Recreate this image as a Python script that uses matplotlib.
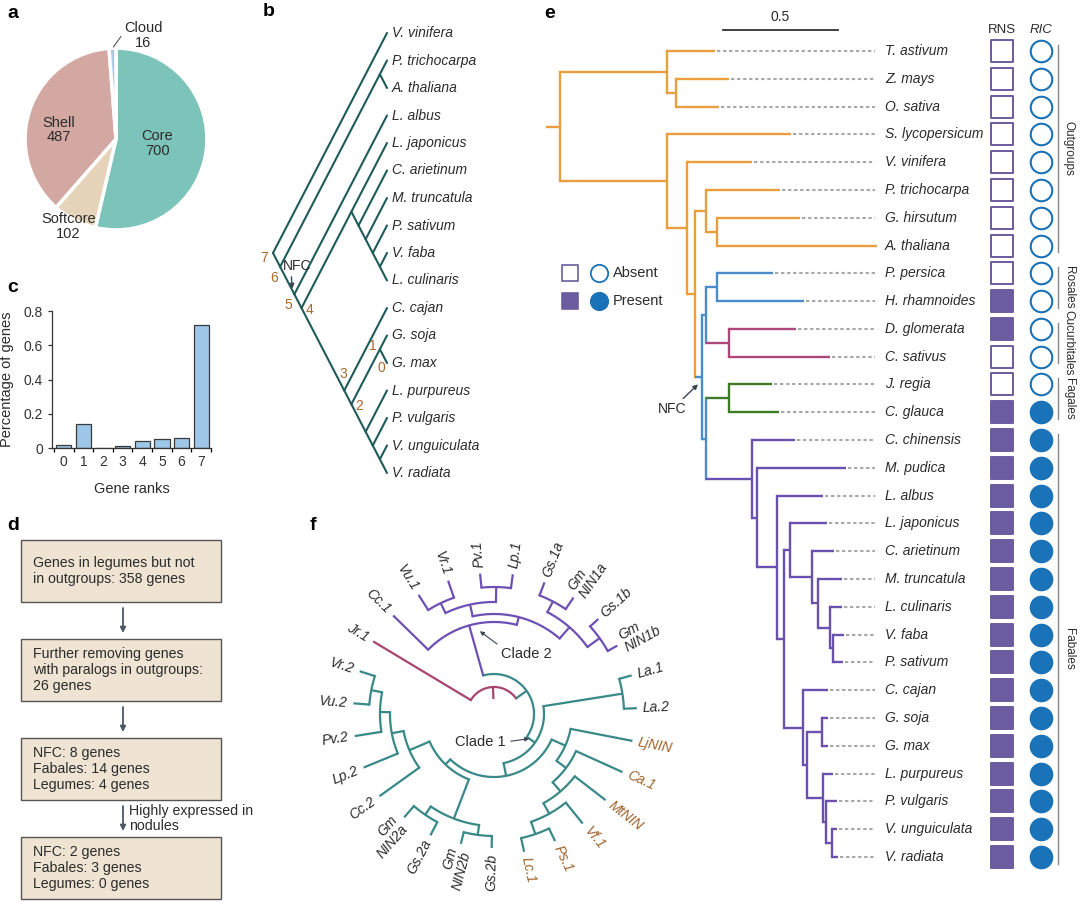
import numpy as np
import matplotlib
matplotlib.use("Agg")
import matplotlib.pyplot as plt
from matplotlib.patches import Rectangle

plt.rcParams['font.family'] = ['Liberation Sans', 'DejaVu Sans']

# ---------------- DATA ----------------
# a: pangenome pie
pie_labels = ["Core", "Softcore", "Shell", "Cloud"]
pie_values = [700, 102, 487, 16]

# c: gene ranks
gene_ranks = [0, 1, 2, 3, 4, 5, 6, 7]
gene_pct = [0.019, 0.143, 0.002, 0.011, 0.043, 0.052, 0.060, 0.720]

# b: species tree (cladogram) with gene-rank nodes
b_newick = ("(V. vinifera,((P. trichocarpa,A. thaliana),(L. albus,((L. japonicus,(C. arietinum,"
            "(M. truncatula,(P. sativum,(V. faba,L. culinaris))))),(C. cajan,((G. soja,G. max)R1,"
            "(L. purpureus,(P. vulgaris,(V. unguiculata,V. radiata))))R2)R3)R4)R5)R6)R7;")
b_rank_nodes = ["R7", "R6", "R5", "R4", "R3", "R2", "R1", "R1"]
b_rank_texts = ["7", "6", "5", "4", "3", "2", "1", "0"]

# d: filtering steps
d_steps = ["Genes in legumes but not\nin outgroups: 358 genes",
           "Further removing genes\nwith paralogs in outgroups:\n26 genes",
           "NFC: 8 genes\nFabales: 14 genes\nLegumes: 4 genes",
           "NFC: 2 genes\nFabales: 3 genes\nLegumes: 0 genes"]
d_arrow_notes = ["", "", "Highly expressed in\nnodules"]

# e: phylogram (branch lengths, substitutions/site)
e_mono = "(T. astivum:0.207,(Z. mays:0.230,O. sativa:0.187):0.037):0.467"
e_rosmal = "(P. trichocarpa:0.322,(G. hirsutum:0.361,A. thaliana:0.696):0.048):0.048"
e_rosales = "(P. persica:0.243,H. rhamnoides:0.378)Rosales:0.048"
e_cucurb = "(D. glomerata:0.291,C. sativus:0.439)Cucurbitales:0.100"
e_fagales = "(J. regia:0.187,C. glauca:0.217)Fagales:0.100"
e_galeg = ("(L. japonicus:0.161,(C. arietinum:0.096,(M. truncatula:0.104,(L. culinaris:0.052,"
           "(V. faba:0.048,P. sativum:0.043):0.013):0.052):0.026):0.096):0.026")
e_phaseol = ("(C. cajan:0.109,((G. soja:0.026,G. max:0.026):0.065,(L. purpureus:0.043,"
             "(P. vulgaris:0.048,(V. unguiculata:0.022,V. radiata:0.026):0.026):0.013):0.070):0.017):0.083")
e_fabales = ("(C. chinensis:0.187,(M. pudica:0.387,(L. albus:0.200,(" + e_galeg + "," + e_phaseol +
             "):0.030):0.087):0.022)Fabales:0.200")
e_nfc = "((" + e_rosales + "," + e_cucurb + "):0.017,(" + e_fagales + "," + e_fabales + "):0.017)NFC:0.030"
e_eud = "(S. lycopersicum:0.537,(V. vinifera:0.283,(" + e_rosmal + "," + e_nfc + "):0.035):0.085):0.467"
e_newick = "(" + e_mono + "," + e_eud + "):0.061;"
e_rns = [0, 0, 0, 0, 0, 0, 0, 0, 0, 1, 1, 0, 0, 1] + [1] * 16
e_ric = [0] * 13 + [1] + [1] * 16
e_groups = [("Outgroups", 0, 7), ("Rosales", 8, 9), ("Cucurbitales", 10, 11),
            ("Fagales", 12, 13), ("Fabales", 14, 29)]
e_scale = 0.5

# f: NIN gene tree (circular)
f_gly2 = "((Gs.2b:0.12,Gm NIN2b:0.12):0.10,(Gs.2a:0.15,Gm NIN2a:0.15):0.10):0.42"
f_other = "(Cc.2:0.49,(Lp.2:0.37,(Pv.2:0.27,(Vu.2:0.16,Vr.2:0.16):0.11):0.10):0.12):0.22"
f_galeg = "(LjNIN:0.63,(Ca.1:0.51,(MtNIN:0.39,(Vf.1:0.27,(Ps.1:0.14,Lc.1:0.14):0.13):0.12):0.12):0.12):0.15"
f_clade1 = "((La.1:0.13,La.2:0.13):0.80,(" + f_galeg + ",(" + f_gly2 + "," + f_other + "):0.07):0.13)Clade1:0.10"
f_clade2 = ("(Cc.1:0.49,(((Vu.1:0.18,Vr.1:0.18):0.11,(Pv.1:0.14,Lp.1:0.14):0.15):0.12,"
            "((Gs.1a:0.14,Gm NIN1a:0.14):0.12,(Gs.1b:0.11,Gm NIN1b:0.11):0.15):0.15):0.08)Clade2:0.52")
f_newick = "(Jr.1:1.14,(" + f_clade2 + "," + f_clade1 + ")T:0.13)Root:0.12;"
f_highlight = ["LjNIN", "Ca.1", "MtNIN", "Vf.1", "Ps.1", "Lc.1"]

# ---------------- helpers ----------------
def parse_newick(s):
    s = s.strip().rstrip(';')
    pos = [0]

    def node():
        children = []
        if s[pos[0]] == '(':
            pos[0] += 1
            while True:
                children.append(node())
                ch = s[pos[0]]
                pos[0] += 1
                if ch == ')':
                    break
        start = pos[0]
        while pos[0] < len(s) and s[pos[0]] not in ':,)':
            pos[0] += 1
        name = s[start:pos[0]]
        length = 0.0
        if pos[0] < len(s) and s[pos[0]] == ':':
            pos[0] += 1
            start = pos[0]
            while pos[0] < len(s) and s[pos[0]] not in ',)':
                pos[0] += 1
            length = float(s[start:pos[0]])
        return {'name': name, 'len': length, 'children': children}
    return node()


def walk(n):
    yield n
    for c in n['children']:
        yield from walk(c)


def leaves(n):
    return [m for m in walk(n) if not m['children']]


W, H = 1080, 906
fig = plt.figure(figsize=(10.8, 9.06), dpi=100)


def px_axes(x0, y0, x1, y1):
    ax = fig.add_axes([x0 / W, 1 - y1 / H, (x1 - x0) / W, (y1 - y0) / H])
    return ax


def panel_letter(x, y, s):
    fig.text(x / W, 1 - y / H, s, fontsize=14, fontweight='bold', ha='left', va='center')


TXT = '#2b2b2b'

# ---------------- a: pie ----------------
ax_a = px_axes(16, 39, 216, 239)
pie_colors = ['#7CC3BA', '#E6D4BA', '#D4A8A2', '#A8CBE6']
wedges, _ = ax_a.pie(pie_values, colors=pie_colors, startangle=90, counterclock=False,
                     wedgeprops=dict(edgecolor='white', linewidth=2.5))
ax_a.set_xlim(-1.1, 1.1)
ax_a.set_ylim(-1.1, 1.1)
ax_a.set_aspect('equal')
lab_r = [0.46, 1.04, 0.63, 1.0]
lab_shift = [(0, 0), (-0.05, -0.04), (-0.03, -0.10), (0, 0)]
for w, lab, val, rr, sh in zip(wedges, pie_labels, pie_values, lab_r, lab_shift):
    ang = np.deg2rad((w.theta1 + w.theta2) / 2)
    x, y = rr * np.cos(ang), rr * np.sin(ang)
    txt = f"{lab}\n{val}"
    if lab == "Cloud":
        ax_a.annotate(txt, xy=(x, y), xytext=(22, 9), textcoords='offset points',
                      ha='center', va='center', fontsize=10.5, color=TXT, linespacing=1.05,
                      arrowprops=dict(arrowstyle='-', color='#555555', lw=0.8, shrinkA=0, shrinkB=1,
                                      relpos=(0.05, 0.7)))
    else:
        ax_a.text(x + sh[0], y + sh[1], txt, ha='center', va='center', fontsize=10.5, color=TXT,
                  linespacing=1.05)
panel_letter(7, 13, 'a')

# ---------------- c: bar chart ----------------
ax_c = px_axes(52, 311, 211, 448)
ax_c.bar(gene_ranks, gene_pct, width=0.78, color='#9EC6E6', edgecolor='#3a3a3a', linewidth=0.9)
ax_c.set_xlim(-0.6, 7.5)
ax_c.set_ylim(0, 0.8)
ax_c.spines['top'].set_visible(False)
ax_c.spines['right'].set_visible(False)
for sp in ['left', 'bottom']:
    ax_c.spines[sp].set_linewidth(0.9)
    ax_c.spines[sp].set_color('#333333')
ax_c.set_yticks([0, 0.2, 0.4, 0.6, 0.8])
ax_c.set_yticklabels(['0', '0.2', '0.4', '0.6', '0.8'])
ax_c.set_xticks(gene_ranks)
ax_c.set_xticks(np.arange(-0.5, 8, 1), minor=True)
ax_c.tick_params(axis='x', which='major', length=0, pad=5)
ax_c.tick_params(axis='x', which='minor', length=3, width=0.9)
ax_c.tick_params(axis='y', length=3, width=0.9)
ax_c.tick_params(labelsize=10, colors='#333333')
ax_c.set_ylabel("Percentage of genes", fontsize=10.5, color=TXT)
ax_c.set_xlabel("Gene ranks", fontsize=10.5, color=TXT)
ax_c.yaxis.set_label_coords(-0.24, 0.5)
ax_c.xaxis.set_label_coords(0.5, -0.25)
panel_letter(7, 287, 'c')

# ---------------- d: flowchart ----------------
ax_d = px_axes(0, 505, 300, 906)
ax_d.set_xlim(0, 300)
ax_d.set_ylim(401, 0)
ax_d.axis('off')
box_step, box_h, box_x0, box_w, top0 = 99, 62, 21, 200, 35
for i, t in enumerate(d_steps):
    top = top0 + i * box_step
    ax_d.add_patch(Rectangle((box_x0, top), box_w, box_h, facecolor='#EFE4D3',
                             edgecolor='#555555', linewidth=1.0))
    ax_d.text(box_x0 + 12, top + box_h / 2, t, ha='left', va='center', fontsize=10.2,
              color=TXT, linespacing=1.18)
for i, note in enumerate(d_arrow_notes):
    y0 = top0 + i * box_step + box_h + 6
    y1 = top0 + (i + 1) * box_step - 6
    ax_d.annotate('', xy=(123, y1), xytext=(123, y0),
                  arrowprops=dict(arrowstyle='-|>', color='#4B5865', lw=1.3,
                                  mutation_scale=8, shrinkA=0, shrinkB=0))
    if note:
        ax_d.text(129, (y0 + y1) / 2, note, ha='left', va='center', fontsize=10.2,
                  color=TXT, linespacing=1.05)
panel_letter(7, 526, 'd')

# ---------------- b: cladogram ----------------
ax_b = px_axes(250, 0, 520, 500)
ax_b.set_xlim((250 - 387) / 14.25, (520 - 387) / 14.25)
ax_b.set_ylim((500 - 33) / 27.5, (0 - 33) / 27.5)
ax_b.axis('off')
b_tree = parse_newick(b_newick)
cnt = [0]


def lay_slant(n):
    if not n['children']:
        n['y'] = cnt[0]
        n['x'] = 0.0
        n['lo'] = n['hi'] = cnt[0]
        cnt[0] += 1
        return
    for c in n['children']:
        lay_slant(c)
    n['lo'] = n['children'][0]['lo']
    n['hi'] = n['children'][-1]['hi']
    n['y'] = (n['lo'] + n['hi']) / 2
    n['x'] = -(n['hi'] - n['lo']) / 2


lay_slant(b_tree)
BCOL = '#1F5B5B'
for n in walk(b_tree):
    for c in n['children']:
        ax_b.plot([n['x'], c['x']], [n['y'], c['y']], color=BCOL, lw=1.5, solid_capstyle='round')
for lf in leaves(b_tree):
    ax_b.text(0.35, lf['y'], lf['name'], ha='left', va='center', fontsize=10,
              style='italic', color=TXT)
bnodes = {n['name']: n for n in walk(b_tree) if n['name']}
rank_offsets = [(-6.5, -3.6), (-4.5, -8.0), (-4.3, -7.6), (5.6, -1.4), (-0.7, 11.9),
                (5.8, -1.1), (-5.2, 2.6), (0.8, -13.3)]
for nm, t, off in zip(b_rank_nodes, b_rank_texts, rank_offsets):
    nd = bnodes[nm]
    ax_b.annotate(t, xy=(nd['x'], nd['y']), xytext=off, textcoords='offset points',
                  ha='center', va='center', fontsize=10, color='#A8692E')
nfc_b = bnodes['R5']
ax_b.annotate("NFC", xy=(nfc_b['x'] - 0.15, nfc_b['y'] - 0.2),
              xytext=(nfc_b['x'] + 0.17, nfc_b['y'] - 1.04), ha='center', va='center',
              fontsize=10, color=TXT,
              arrowprops=dict(arrowstyle='-|>', color='#3B4650', lw=1.0, mutation_scale=7,
                              shrinkA=1, shrinkB=0, relpos=(0.3, 0.0)))
panel_letter(263, 12, 'b')

# ---------------- e: phylogram ----------------
ax_e = px_axes(546, 0, 1080, 906)
ax_e.set_xlim(0, 534 / 230)
ax_e.set_ylim((906 - 51) / 27.79, -51 / 27.79)
ax_e.axis('off')
e_tree = parse_newick(e_newick)
e_base_col = '#E9A03C'
clade_col = {'NFC': '#4A8DCC', 'Cucurbitales': '#AE467A',
             'Fagales': '#3E7B27', 'Fabales': '#6A51B0'}
cnt = [0]


def lay_rect(n, x0, col):
    n['x'] = x0 + n['len']
    n['col'] = clade_col.get(n['name'], col)
    if not n['children']:
        n['y'] = cnt[0]
        cnt[0] += 1
        return
    for c in n['children']:
        lay_rect(c, n['x'], n['col'])
    n['y'] = (n['children'][0]['y'] + n['children'][-1]['y']) / 2


lay_rect(e_tree, 0.0, e_base_col)
LW = 1.7
ax_e.plot([0, e_tree['x']], [e_tree['y']] * 2, color=e_tree['col'], lw=LW, solid_capstyle='projecting')
for n in walk(e_tree):
    if n['children']:
        ax_e.plot([n['x']] * 2, [n['children'][0]['y'], n['children'][-1]['y']], color=n['col'],
                  lw=LW, solid_capstyle='projecting')
        for c in n['children']:
            ax_e.plot([n['x'], c['x']], [c['y']] * 2, color=c['col'], lw=LW, solid_capstyle='butt')
dash_end, lab_x, sq_x, ci_x = 1.430, 1.474, 1.983, 2.152
e_leaves = leaves(e_tree)
for lf, rns, ric in zip(e_leaves, e_rns, e_ric):
    if lf['x'] < dash_end:
        ax_e.plot([lf['x'] + 0.01, dash_end], [lf['y']] * 2, color='#A9A9A9', lw=1.5,
                  linestyle=(0, (1.6, 1.3)))
    ax_e.text(lab_x, lf['y'], lf['name'], ha='left', va='center', fontsize=10,
              style='italic', color=TXT)
    ax_e.scatter([sq_x], [lf['y']], marker='s', s=15.5 ** 2, linewidths=1.4,
                 edgecolors='#6A5C9E', facecolors='#6A5C9E' if rns else 'white', zorder=3)
    ax_e.scatter([ci_x], [lf['y']], marker='o', s=15.5 ** 2, linewidths=1.5,
                 edgecolors='#1A72B8', facecolors='#1A72B8' if ric else 'white', zorder=3)
ax_e.text(sq_x, -0.76, "RNS", ha='center', va='center', fontsize=9.5, color=TXT)
ax_e.text(ci_x, -0.76, "RIC", ha='center', va='center', fontsize=9.5, color=TXT, style='italic')
for g, a, b in e_groups:
    ax_e.plot([2.226, 2.226], [a - 0.22, b + 0.24], color='#888888', lw=1.0)
    ax_e.text(2.272, (a + b) / 2, g, rotation=270, ha='center', va='center',
              fontsize=8.5, color=TXT)
# scale bar
ax_e.plot([0.77, 0.77 + e_scale], [-0.756, -0.756], color='#333333', lw=1.3)
ax_e.text(0.77 + e_scale / 2, -1.22, f"{e_scale}", ha='center', va='center', fontsize=10, color=TXT)
# legend
for row, filled, lab in [(8, False, "Absent"), (9, True, "Present")]:
    ax_e.scatter([0.104], [row], marker='s', s=12 ** 2, linewidths=1.2, edgecolors='#6A5C9E',
                 facecolors='#6A5C9E' if filled else 'white')
    ax_e.scatter([0.232], [row], marker='o', s=12.5 ** 2, linewidths=1.3, edgecolors='#1A72B8',
                 facecolors='#1A72B8' if filled else 'white')
    ax_e.text(0.289, row, lab, ha='left', va='center', fontsize=10.5, color=TXT)
nfc_e = [n for n in walk(e_tree) if n['name'] == 'NFC'][0]
ax_e.annotate("NFC", xy=(nfc_e['x'] - 0.017, nfc_e['y'] + 0.27),
              xytext=(nfc_e['x'] - 0.13, nfc_e['y'] + 1.17), ha='center', va='center',
              fontsize=10, color=TXT,
              arrowprops=dict(arrowstyle='-|>', color='#3B4650', lw=1.0, mutation_scale=7,
                              shrinkA=1, shrinkB=0, relpos=(0.75, 1.0)))
panel_letter(544, 13, 'e')

# ---------------- f: circular tree ----------------
ax_f = px_axes(300, 505, 700, 906)
ax_f.set_xlim((300 - 494) / 100, (700 - 494) / 100)
ax_f.set_ylim((714 - 906) / 100, (714 - 505) / 100)
ax_f.set_aspect('equal')
ax_f.axis('off')
f_tree = parse_newick(f_newick)
f_col = {'Root': '#A8456F', 'Jr.1': '#A8456F', 'T': '#3A8989', 'Clade2': '#6E50B4'}
f_leaves = leaves(f_tree)
start_ang, step_ang = 149.0, -360.0 / len(f_leaves)
for i, lf in enumerate(f_leaves):
    lf['ang'] = start_ang + i * step_ang


def lay_circ(n, r0, col):
    n['r'] = r0 + n['len']
    n['r0'] = r0
    n['col'] = f_col.get(n['name'], col)
    for c in n['children']:
        lay_circ(c, n['r'], n['col'])
    if n['children']:
        n['ang'] = (n['children'][0]['ang'] + n['children'][-1]['ang']) / 2


lay_circ(f_tree, 0.15, '#3A8989')


def pol(r, a):
    t = np.deg2rad(a)
    return r * np.cos(t), r * np.sin(t)


FLW = 1.6
for n in walk(f_tree):
    (x0, y0), (x1, y1) = pol(n['r0'], n['ang']), pol(n['r'], n['ang'])
    ax_f.plot([x0, x1], [y0, y1], color=n['col'], lw=FLW, solid_capstyle='butt')
    if n['children']:
        aa = np.linspace(n['children'][0]['ang'], n['children'][-1]['ang'], 80)
        xs, ys = pol(n['r'], aa)
        ax_f.plot(xs, ys, color=n['col'], lw=FLW, solid_capstyle='projecting')
for lf in f_leaves:
    a = lf['ang'] % 360
    x, y = pol(lf['r'] + 0.06, lf['ang'])
    if 100 < a < 270:
        rot, ha = a - 180, 'right'
    else:
        rot, ha = (a if a <= 180 else a - 360), 'left'
    ax_f.text(x, y, lf['name'].replace("Gm ", "Gm\n"), rotation=rot, rotation_mode='anchor',
              ha=ha, va='center', fontsize=10, style='italic', linespacing=1.0,
              color='#A0622B' if lf['name'] in f_highlight else TXT, clip_on=False)
fnodes = {n['name']: n for n in walk(f_tree) if n['name']}
c2, c1 = fnodes['Clade2'], fnodes['Clade1']
ax_f.annotate("Clade 2", xy=pol(c2['r'] - 0.08, c2['ang'] - 6), xytext=(0.07, 0.60),
              ha='left', va='center', fontsize=10.5, color=TXT,
              arrowprops=dict(arrowstyle='-|>', color='#3B4650', lw=0.8, mutation_scale=6,
                              shrinkA=1, shrinkB=0, relpos=(0.0, 1.0)))
ax_f.annotate("Clade 1", xy=pol(c1['r'] - 0.07, c1['ang']), xytext=(-0.14, -0.28),
              ha='center', va='center', fontsize=10.5, color=TXT,
              arrowprops=dict(arrowstyle='-|>', color='#3B4650', lw=0.8, mutation_scale=6,
                              shrinkA=2, shrinkB=0, relpos=(1.0, 0.5)))
panel_letter(310, 526, 'f')

fig.savefig("out.png", dpi=100, facecolor='white')
